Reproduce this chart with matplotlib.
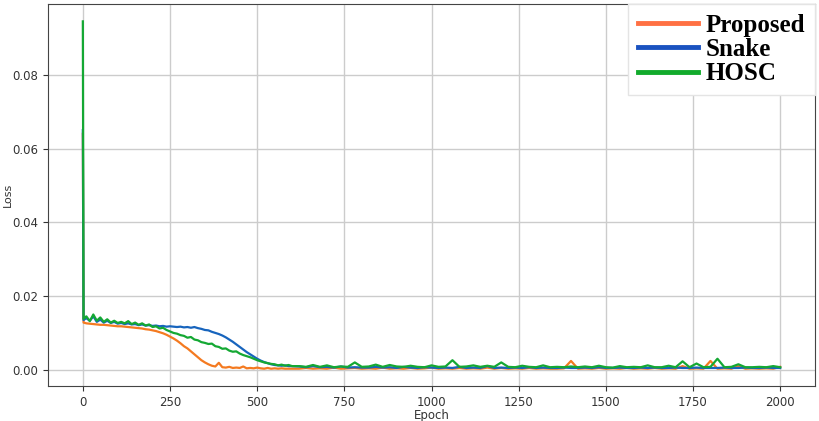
import numpy as np
import matplotlib
matplotlib.use("Agg")
import matplotlib.pyplot as plt
from matplotlib.lines import Line2D

# epochs: dense at the start, coarser on the flat tail
epochs = [0, 2] + list(range(10, 601, 10)) + list(range(620, 2001, 20))

proposed = [
    0.0640, 0.0128,
    0.0126, 0.0125, 0.0124, 0.0123, 0.0122, 0.0122, 0.0121, 0.0120, 0.0119, 0.0118,
    0.0118, 0.0117, 0.0116, 0.0115, 0.0114, 0.0113, 0.0112, 0.0110, 0.0109, 0.0107,
    0.0105, 0.0102, 0.0099, 0.0095, 0.0090,
    0.0085, 0.0079, 0.0072, 0.0064, 0.0058, 0.0050, 0.0042, 0.0034, 0.0026, 0.0020,
    0.0015, 0.0011, 0.0009, 0.0019, 0.0007, 0.0006, 0.0008, 0.0005, 0.0006, 0.0005,
    0.0009, 0.0004, 0.0005, 0.0004, 0.0006, 0.0004, 0.0003, 0.0005, 0.0003, 0.0004,
    0.0003, 0.0004, 0.0003, 0.0003, 0.0003,
    0.0003, 0.0005, 0.0003, 0.0004, 0.0003, 0.0006, 0.0003, 0.0004, 0.0005, 0.0003,
    0.0004, 0.0003, 0.0006, 0.0003, 0.0004, 0.0003, 0.0005, 0.0003, 0.0004, 0.0006,
    0.0003, 0.0004, 0.0003, 0.0005, 0.0003, 0.0004, 0.0003, 0.0006, 0.0003, 0.0005,
    0.0003, 0.0004, 0.0003, 0.0005, 0.0003, 0.0004, 0.0003, 0.0003, 0.0004, 0.0024,
    0.0003, 0.0004, 0.0003, 0.0005, 0.0003, 0.0004, 0.0003, 0.0005, 0.0003, 0.0004,
    0.0003, 0.0005, 0.0003, 0.0004, 0.0003, 0.0010, 0.0003, 0.0004, 0.0003, 0.0024,
    0.0003, 0.0004, 0.0003, 0.0010, 0.0003, 0.0004, 0.0003, 0.0004, 0.0003, 0.0008,
]

snake = [
    0.0650, 0.0135,
    0.0140, 0.0133, 0.0145, 0.0130, 0.0136, 0.0128, 0.0133, 0.0127, 0.0130, 0.0125,
    0.0127, 0.0124, 0.0126, 0.0123, 0.0124, 0.0121, 0.0123, 0.0120, 0.0121, 0.0119,
    0.0120, 0.0118, 0.0119, 0.0117, 0.0118,
    0.0117, 0.0116, 0.0117, 0.0115, 0.0116, 0.0114, 0.0116, 0.0113, 0.0111, 0.0108,
    0.0107, 0.0103, 0.0100, 0.0097, 0.0093, 0.0088, 0.0082, 0.0076, 0.0069, 0.0062,
    0.0055, 0.0048, 0.0042, 0.0036, 0.0030, 0.0025, 0.0021, 0.0018, 0.0015, 0.0013,
    0.0012, 0.0011, 0.0012, 0.0010, 0.0010,
    0.0009, 0.0007, 0.0010, 0.0007, 0.0008, 0.0006, 0.0009, 0.0006, 0.0007, 0.0006,
    0.0006, 0.0008, 0.0006, 0.0007, 0.0005, 0.0008, 0.0006, 0.0005, 0.0007, 0.0006,
    0.0005, 0.0006, 0.0005, 0.0008, 0.0005, 0.0006, 0.0005, 0.0010, 0.0005, 0.0006,
    0.0005, 0.0006, 0.0005, 0.0007, 0.0005, 0.0006, 0.0005, 0.0005, 0.0006, 0.0005,
    0.0005, 0.0006, 0.0005, 0.0007, 0.0005, 0.0005, 0.0006, 0.0005, 0.0005, 0.0006,
    0.0005, 0.0006, 0.0005, 0.0005, 0.0006, 0.0005, 0.0005, 0.0006, 0.0005, 0.0005,
    0.0005, 0.0006, 0.0005, 0.0005, 0.0006, 0.0005, 0.0005, 0.0006, 0.0005, 0.0005,
]

hosc = [
    0.0945, 0.0138,
    0.0145, 0.0132, 0.0150, 0.0133, 0.0142, 0.0130, 0.0137, 0.0128, 0.0133, 0.0127,
    0.0130, 0.0126, 0.0132, 0.0124, 0.0128, 0.0122, 0.0126, 0.0120, 0.0123, 0.0116,
    0.0118, 0.0112, 0.0114, 0.0108, 0.0104,
    0.0100, 0.0098, 0.0094, 0.0092, 0.0087, 0.0089, 0.0082, 0.0080, 0.0075, 0.0073,
    0.0070, 0.0071, 0.0064, 0.0062, 0.0057, 0.0058, 0.0052, 0.0049, 0.0050, 0.0044,
    0.0040, 0.0037, 0.0034, 0.0030, 0.0026, 0.0023, 0.0020, 0.0018, 0.0016, 0.0015,
    0.0012, 0.0014, 0.0011, 0.0013, 0.0010,
    0.0010, 0.0008, 0.0013, 0.0008, 0.0012, 0.0007, 0.0009, 0.0008, 0.0020, 0.0008,
    0.0009, 0.0014, 0.0008, 0.0013, 0.0009, 0.0008, 0.0011, 0.0008, 0.0007, 0.0012,
    0.0008, 0.0009, 0.0026, 0.0008, 0.0009, 0.0012, 0.0008, 0.0011, 0.0008, 0.0020,
    0.0008, 0.0007, 0.0011, 0.0008, 0.0007, 0.0012, 0.0007, 0.0008, 0.0007, 0.0009,
    0.0007, 0.0009, 0.0007, 0.0011, 0.0007, 0.0006, 0.0010, 0.0007, 0.0008, 0.0007,
    0.0012, 0.0007, 0.0007, 0.0011, 0.0007, 0.0023, 0.0007, 0.0017, 0.0007, 0.0008,
    0.0030, 0.0007, 0.0008, 0.0015, 0.0007, 0.0007, 0.0008, 0.0007, 0.0010, 0.0007,
]

labels = ['Proposed', 'Snake', 'HOSC']
line_colors = ['#f47a20', '#1764bd', '#14a833']
legend_colors = ['#ff7043', '#1a52c0', '#12ab2c']

fig = plt.figure(figsize=(8.2, 4.21), dpi=100)
ax = fig.add_axes([0.0585, 0.083, 0.9355, 0.9075])

for series, color in zip([proposed, snake, hosc], line_colors):
    ax.plot(epochs, series, color=color, linewidth=1.6)

ax.grid(True, color='#cccccc', linewidth=1.0)
ax.set_axisbelow(True)
ax.set_xticks([0, 250, 500, 750, 1000, 1250, 1500, 1750, 2000])
ax.set_yticks([0.00, 0.02, 0.04, 0.06, 0.08])
ax.set_yticklabels(['0.00', '0.02', '0.04', '0.06', '0.08'])
ax.tick_params(labelsize=8.5, colors='#333333')
ax.set_xlabel('Epoch', fontsize=8.5, color='#333333', labelpad=0)
ax.set_ylabel('Loss', fontsize=8, color='#333333')
ax.yaxis.set_label_coords(-0.046, 0.5)
for sp in ax.spines.values():
    sp.set_color('#444444')

handles = [Line2D([0], [0], color=c, linewidth=3.5) for c in legend_colors]
leg = ax.legend(handles, labels, loc='upper right', borderaxespad=0.0,
                fancybox=False, framealpha=1.0, edgecolor='#e4e4e4',
                handlelength=2.4, handletextpad=0.3, labelspacing=0.05,
                borderpad=0.4,
                prop={'family': 'Liberation Serif', 'weight': 'bold', 'size': 18})

fig.savefig('out.png', dpi=100)
